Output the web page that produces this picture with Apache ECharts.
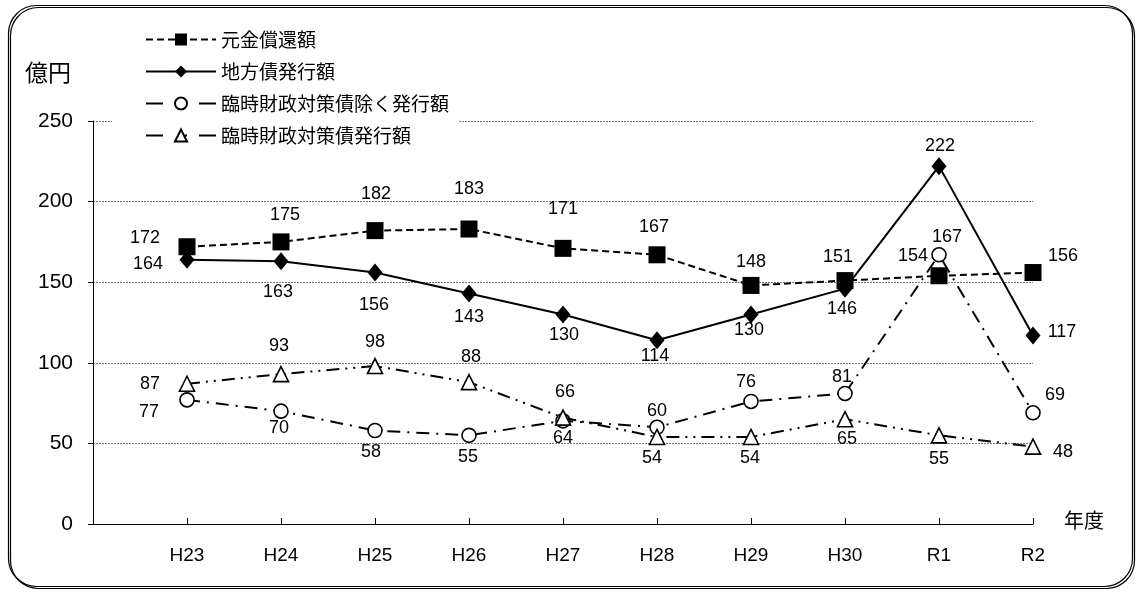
<!DOCTYPE html>
<html>
<head>
<meta charset="utf-8">
<script src="https://cdn.jsdelivr.net/npm/echarts@6/dist/echarts.min.js"></script>
<style>
  html, body { margin: 0; padding: 0; background: #fff; }
  #chart { width: 1139px; height: 593px; }
</style>
</head>
<body>
<div id="chart"></div>
<script>
// 年度
const years = ['H23', 'H24', 'H25', 'H26', 'H27', 'H28', 'H29', 'H30', 'R1', 'R2'];

// 億円
const principalRepayment = [172, 175, 182, 183, 171, 167, 148, 151, 154, 156]; // 元金償還額
const bondIssuance       = [164, 163, 156, 143, 130, 114, 130, 146, 222, 117]; // 地方債発行額
const issuanceExRinzai   = [77, 70, 58, 55, 64, 60, 76, 81, 167, 69];          // 臨時財政対策債除く発行額
const rinzaiIssuance     = [87, 93, 98, 88, 66, 54, 54, 65, 55, 48];           // 臨時財政対策債発行額

const yTicks = [0, 50, 100, 150, 200, 250];

// per-point label offsets (px) so the numbers don't collide
const offPrincipal = [[-42,-9],[4,-27],[1,-37],[0,-40],[0,-39],[-3,-28],[0,-23],[-7,-24],[-26,-20],[30,-16]];
const offIssuance  = [[-39,4],[-3,31],[-1,33],[0,24],[1,21],[-2,16],[-2,16],[-3,20],[1,-20],[29,-3]];
const offExRinzai  = [[-38,12],[-2,17],[-4,22],[-1,22],[0,17],[0,-16],[-5,-19],[-3,-16],[8,-18],[22,-18]];
const offRinzai    = [[-37,0],[-2,-28],[0,-24],[2,-25],[2,-26],[-5,21],[-1,21],[2,20],[0,24],[30,5]];

const numFont = "'Liberation Sans', Arial, sans-serif";
const jpFont = "'Noto Sans CJK JP', sans-serif";

function points(values, offsets) {
  return values.map((v, i) => ({
    value: [i + 1, v],
    label: { offset: offsets[i] }
  }));
}

const baseLabel = {
  show: true,
  position: 'inside',
  color: '#000',
  fontSize: 18,
  fontFamily: numFont
};

const chart = echarts.init(document.getElementById('chart'));

chart.setOption({
  animation: false,
  backgroundColor: '#fff',
  grid: { left: 93, right: 106, top: 121, bottom: 69, containLabel: false },
  legend: {
    orient: 'vertical',
    left: 112,
    top: 25,
    padding: [5, 10, 8, 33],
    backgroundColor: '#fff',
    itemWidth: 70,
    itemHeight: 15,
    itemGap: 13,
    textStyle: { fontSize: 19, lineHeight: 19, color: '#000', fontFamily: jpFont },
    data: [
      { name: '元金償還額' },
      { name: '地方債発行額' },
      { name: '臨時財政対策債除く発行額', lineStyle: { type: [17, 36, 17] } },
      { name: '臨時財政対策債発行額', lineStyle: { type: [17, 22, 2, 12, 17] } }
    ]
  },
  xAxis: {
    type: 'value',
    min: 0,
    max: 10,
    interval: 1,
    axisLine: { show: true, lineStyle: { color: '#000', width: 1 } },
    axisTick: { show: true, inside: true, length: 6, lineStyle: { color: '#000' } },
    splitLine: { show: false },
    axisLabel: {
      margin: 22,
      fontSize: 19,
      color: '#000',
      fontFamily: numFont,
      formatter: v => (v >= 1 && v <= years.length ? years[v - 1] : '')
    }
  },
  yAxis: {
    type: 'value',
    min: yTicks[0],
    max: yTicks[yTicks.length - 1],
    interval: yTicks[1] - yTicks[0],
    axisLine: { show: true, lineStyle: { color: '#000', width: 1 } },
    axisTick: { show: true, inside: false, length: 5, lineStyle: { color: '#000' } },
    splitLine: { show: true, lineStyle: { color: '#777', width: 1, type: [2, 1] } },
    axisLabel: { margin: 20, fontSize: 21, color: '#000', fontFamily: numFont }
  },
  graphic: [
    {
      type: 'rect',
      z: -10,
      shape: { x: 8.5, y: 5.5, width: 1124, height: 581, r: 28 },
      style: {
        fill: 'none', stroke: '#000', lineWidth: 1.2,
        shadowColor: '#000', shadowOffsetX: 2, shadowOffsetY: 2, shadowBlur: 0
      }
    },
    {
      type: 'text', left: 25, top: 61,
      style: { text: '億円', fontSize: 23, fill: '#000', fontFamily: jpFont }
    },
    {
      type: 'text', left: 1064, top: 510,
      style: { text: '年度', fontSize: 20, fill: '#000', fontFamily: jpFont }
    }
  ],
  series: [
    {
      name: '元金償還額',
      type: 'line',
      z: 3,
      data: points(principalRepayment, offPrincipal),
      symbol: 'rect',
      symbolSize: 17,
      itemStyle: { color: '#000' },
      lineStyle: { color: '#000', width: 2, type: [7, 4] },
      label: baseLabel
    },
    {
      name: '地方債発行額',
      type: 'line',
      z: 4,
      data: points(bondIssuance, offIssuance),
      symbol: 'diamond',
      symbolSize: [15, 18],
      itemStyle: { color: '#000' },
      lineStyle: { color: '#000', width: 2, type: 'solid' },
      label: baseLabel
    },
    {
      name: '臨時財政対策債除く発行額',
      type: 'line',
      z: 5,
      data: points(issuanceExRinzai, offExRinzai),
      symbol: 'circle',
      symbolSize: 14,
      itemStyle: { color: '#fff', borderColor: '#000', borderWidth: 1.6 },
      lineStyle: { color: '#000', width: 2, type: [13, 7, 2, 7] },
      label: baseLabel
    },
    {
      name: '臨時財政対策債発行額',
      type: 'line',
      z: 6,
      data: points(rinzaiIssuance, offRinzai),
      symbol: 'triangle',
      symbolSize: 15,
      itemStyle: { color: '#fff', borderColor: '#000', borderWidth: 1.6 },
      lineStyle: { color: '#000', width: 2, type: [13, 6, 2, 6, 2, 6] },
      label: baseLabel
    }
  ]
});
</script>
</body>
</html>
